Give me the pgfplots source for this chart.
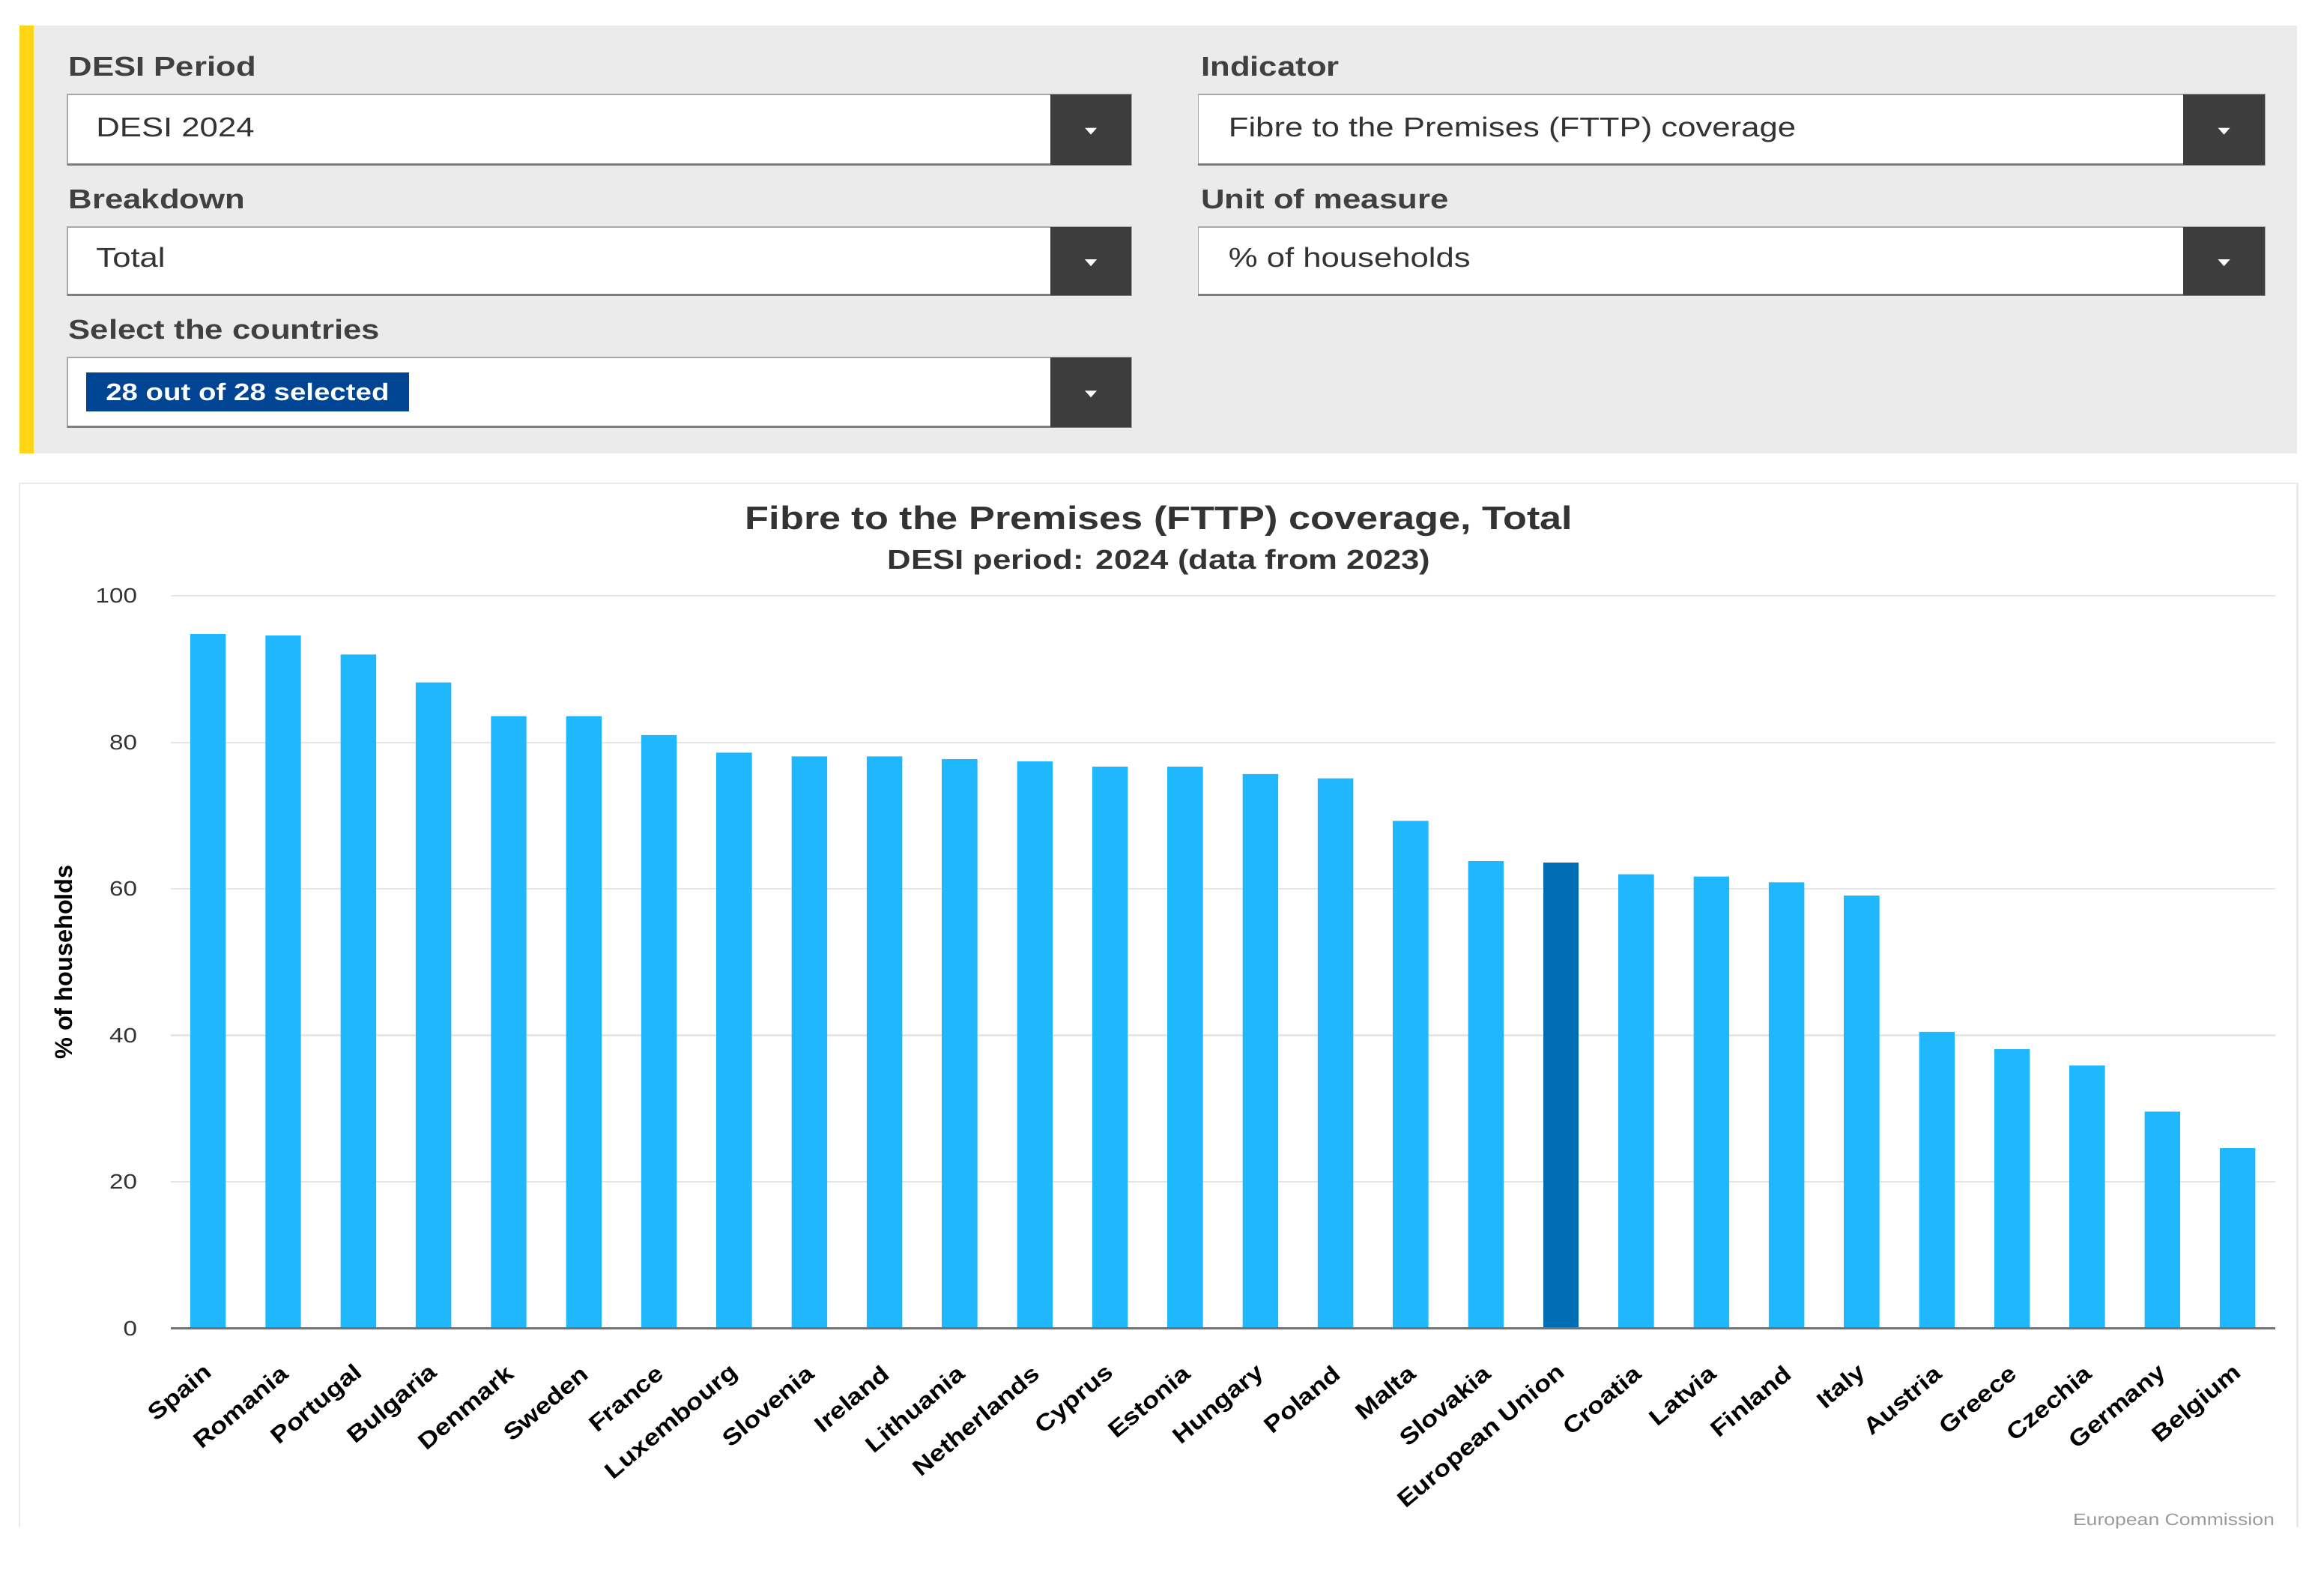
\documentclass[border=0pt]{standalone}
\usepackage{pgfplots}
\pgfplotsset{compat=1.18}
\usepackage{fontspec}
\setmainfont{Liberation Sans}[FakeStretch=1.2]
\newfontfamily\plainsf{Liberation Sans}
\newfontfamily\diagsf{Liberation Sans}[FakeStretch=1.17]

\definecolor{panel}{HTML}{EBEBEB}
\definecolor{euyellow}{HTML}{FFD617}
\definecolor{btn}{HTML}{3D3D3D}
\definecolor{tagblue}{HTML}{004494}
\definecolor{txt}{HTML}{333333}
\definecolor{lbl}{HTML}{404040}
\definecolor{boxline}{HTML}{A8A8A8}
\definecolor{barlight}{HTML}{1FB8FF}
\definecolor{bareu}{HTML}{006DB4}
\definecolor{gridc}{HTML}{E6E6E6}
\definecolor{frame}{HTML}{EAEAEA}
\definecolor{credit}{HTML}{9A9A9A}

\newcommand{\fs}[1]{\fontsize{#1}{#1}\selectfont}

% select box: left, top, right, bottom (in screen px, y down)
\newcommand{\dropdown}[4]{%
  \fill[white] (#1,#2) rectangle (#3,#4);
  \draw[boxline, line width=0.5pt] (#1,#2) rectangle (#3,#4);
  \draw[boxline!75!black, line width=0.8pt] (#1,#4) -- (#3,#4);
  \fill[btn] (#3-55,#2) rectangle (#3,#4);
  \fill[white] (#3-31.5,{(#2+#4)/2-1}) -- (#3-23.5,{(#2+#4)/2-1}) -- (#3-27.5,{(#2+#4)/2+3.5}) -- cycle;
}

\begin{document}
\begin{tikzpicture}
\begin{scope}[x=0.5pt,y=-0.5pt]
\path[use as bounding box] (0,0) rectangle (1568,1065);

% filter panel
\fill[panel] (13,17) rectangle (1550,306);
\fill[euyellow] (13,17) rectangle (22.5,306);

\node[anchor=base west, inner sep=0pt, font=\fs{9.2pt}\bfseries, text=lbl] at (46,51.5) {DESI Period};
\node[anchor=base west, inner sep=0pt, font=\fs{9.2pt}\bfseries, text=lbl] at (46,141) {Breakdown};
\node[anchor=base west, inner sep=0pt, font=\fs{9.2pt}\bfseries, text=lbl] at (46,228.5) {Select the countries};
\node[anchor=base west, inner sep=0pt, font=\fs{9.2pt}\bfseries, text=lbl] at (810,51.5) {Indicator};
\node[anchor=base west, inner sep=0pt, font=\fs{9.2pt}\bfseries, text=lbl] at (810,141) {Unit of measure};

\dropdown{45.5}{63.5}{763.5}{111}
\dropdown{45.5}{153}{763.5}{199}
\dropdown{45.5}{241}{763.5}{288}
\dropdown{808.5}{63.5}{1528}{111}
\dropdown{808.5}{153}{1528}{199}

\node[anchor=base west, inner sep=0pt, font=\fs{9.2pt}, text=txt] at (64.5,92) {DESI 2024};
\node[anchor=base west, inner sep=0pt, font=\fs{9.2pt}, text=txt] at (64.5,180) {Total};
\node[anchor=base west, inner sep=0pt, font=\fs{9.2pt}, text=txt] at (828.5,92) {Fibre to the Premises (FTTP) coverage};
\node[anchor=base west, inner sep=0pt, font=\fs{9.2pt}, text=txt] at (828.5,180) {\% of households};

\fill[tagblue] (58,251) rectangle (276,277.5);
\node[anchor=base west, inner sep=0pt, font=\fs{8.1pt}\bfseries, text=white] at (71,270) {28 out of 28 selected};

% chart panel
\draw[frame, line width=0.6pt] (13,1030) -- (13,326) -- (1550,326) -- (1550,1030);
\node[anchor=base, inner sep=0pt, font=\fs{11pt}\bfseries, text=txt] at (782,357) {Fibre to the Premises (FTTP) coverage, Total};
\node[anchor=base, inner sep=0pt, font=\fs{9.2pt}\bfseries, text=txt] at (782,384) {DESI period: 2024 (data from 2023)};
\node[anchor=base east, inner sep=0pt, font=\fs{5.6pt}, text=credit] at (1535,1029) {European Commission};
\end{scope}

\begin{axis}[
    at={(57.5pt,-448pt)}, anchor=south west,
    scale only axis, width=710pt, height=247pt,
    ybar, bar width=12pt,
    xmin=-0.5, xmax=27.5, ymin=0, ymax=100,
    enlargelimits=false, clip=false,
    ytick={0,20,...,100},
    xtick={0,...,27},
    xticklabels={Spain,Romania,Portugal,Bulgaria,Denmark,Sweden,France,Luxembourg,Slovenia,Ireland,Lithuania,Netherlands,Cyprus,Estonia,Hungary,Poland,Malta,Slovakia,European Union,Croatia,Latvia,Finland,Italy,Austria,Greece,Czechia,Germany,Belgium},
    axis line style={draw=none},
    tick style={draw=none},
    major tick length=0pt,
    ymajorgrids,
    grid style={gridc, line width=0.6pt},
    /pgf/number format/assume math mode=true,
    yticklabel style={font=\fs{7pt}, text=txt, anchor=east, inner sep=0pt, xshift=-11pt},
    xticklabel style={xshift=0.5pt, yshift=-14pt, font=\diagsf\bfseries\fs{7.8pt}, text=black, rotate=40, anchor=east, inner sep=0pt},
    every axis y label/.style={at={(axis description cs:-0.0507,0.5)}, anchor=center, rotate=90, font=\plainsf\bfseries\fs{8.2pt}, text=black},
    ylabel={\% of households},
]
\addplot[fill=barlight, draw=none, bar shift=0pt] coordinates {
    (0,94.8) (1,94.6) (2,92.0) (3,88.2) (4,83.6) (5,83.6) (6,81.0)
    (7,78.6) (8,78.1) (9,78.1) (10,77.7) (11,77.4) (12,76.7) (13,76.7)
    (14,75.7) (15,75.1) (16,69.3) (17,63.8)
    (19,62.0) (20,61.7) (21,60.9) (22,59.1) (23,40.5) (24,38.1)
    (25,35.9) (26,29.6) (27,24.6)
};
\addplot[fill=bareu, draw=none, bar shift=0pt] coordinates {(18,63.6)};
\draw[draw=black!55, line width=0.8pt] (axis cs:-0.5,0) -- (axis cs:27.5,0);
\end{axis}
\end{tikzpicture}
\end{document}
